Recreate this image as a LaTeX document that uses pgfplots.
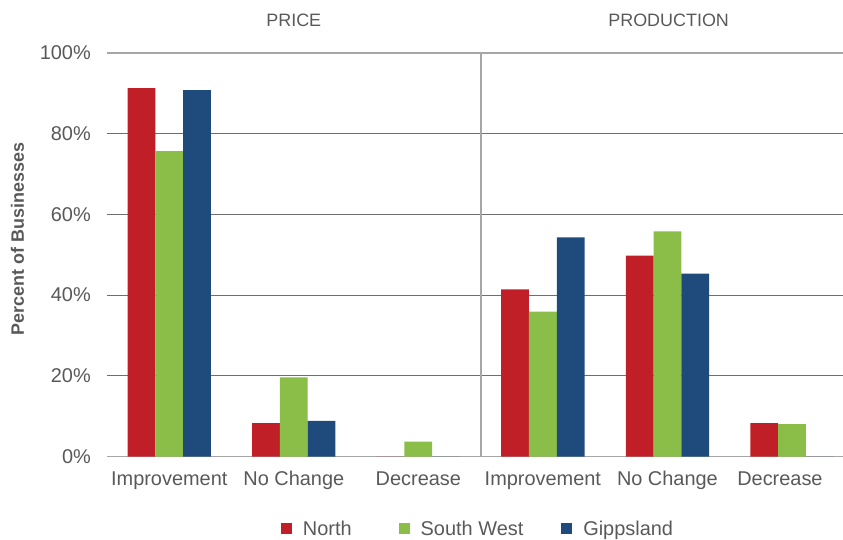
\documentclass[border=0pt]{standalone}
\usepackage{fontspec}
\setmainfont{Liberation Sans}
\usepackage{pgfplots}
\pgfplotsset{compat=1.18}
\definecolor{cNorth}{RGB}{193,31,39}
\definecolor{cSW}{RGB}{138,190,72}
\definecolor{cGipps}{RGB}{31,75,124}
\definecolor{txt}{RGB}{89,89,89}
\definecolor{gridd}{RGB}{110,110,110}
\definecolor{gridl}{RGB}{166,166,166}
\begin{document}
\begin{tikzpicture}
\path[use as bounding box] (0,0) rectangle (843bp,540bp);
\begin{axis}[
 at={(107bp,83.5bp)}, anchor=south west,
 scale only axis, width=736bp, height=403.5bp,
 xmin=-0.5, xmax=5.41, ymin=0, ymax=100,
 clip=false,
 axis line style={draw=none},
 ybar=0pt, bar width=0.223,
 xtick={0,1,2,3,4,5},
 xticklabels={Improvement,No Change,Decrease,Improvement,No Change,\hspace*{-24bp}Decrease},
 ytick={20,40,60,80}, yticklabels={20\%,40\%,60\%,80\%},
 extra y ticks={0,100}, extra y tick labels={0\%,100\%},
 extra y tick style={grid style={gridl, line width=1.5bp}},
 ymajorgrids, grid style={gridd, line width=1.1bp},
 extra x ticks={2.5}, extra x tick labels={},
 extra x tick style={grid=major, grid style={gridl, line width=2bp}},
 major tick length=0,
 tick label style={font=\fontsize{20}{24}\selectfont, text=txt},
 xticklabel style={anchor=base, yshift=-28.5bp},
 yticklabel style={anchor=east, inner sep=0pt, xshift=-16bp},
 legend columns=3,
 legend style={at={(0.5041,-0.179)}, anchor=center, draw=none, fill=none,
   font=\fontsize{20}{24}\selectfont, text=txt,
   /tikz/every odd column/.append style={column sep=9bp},
   /tikz/column 2/.style={column sep=45bp},
   /tikz/column 4/.style={column sep=36bp}},
 legend image code/.code={\fill[#1] (0bp,-5.5bp) rectangle (11bp,5.5bp);},
]
\addplot[fill=cNorth, draw=none] coordinates {(0,91.3) (1,8.3) (2,0) (3,41.4) (4,49.8) (5,8.3)};
\addplot[fill=cSW, draw=none] coordinates {(0,75.7) (1,19.6) (2,3.7) (3,35.9) (4,55.8) (5,8.0)};
\addplot[fill=cGipps, draw=none] coordinates {(0,90.8) (1,8.8) (2,0) (3,54.3) (4,45.3) (5,0)};
\legend{North,South West,Gippsland}
\node[anchor=base, yshift=26bp, font=\fontsize{18}{22}\selectfont, text=txt] at (axis cs:1,100) {PRICE};
\node[anchor=base, yshift=26bp, font=\fontsize{18}{22}\selectfont, text=txt] at (axis cs:4.01,100) {PRODUCTION};
\end{axis}
\node[rotate=90, font=\fontsize{18}{22}\selectfont\bfseries, text=txt] at (17.5bp,301bp) {Percent of Businesses};
\end{tikzpicture}
\end{document}
